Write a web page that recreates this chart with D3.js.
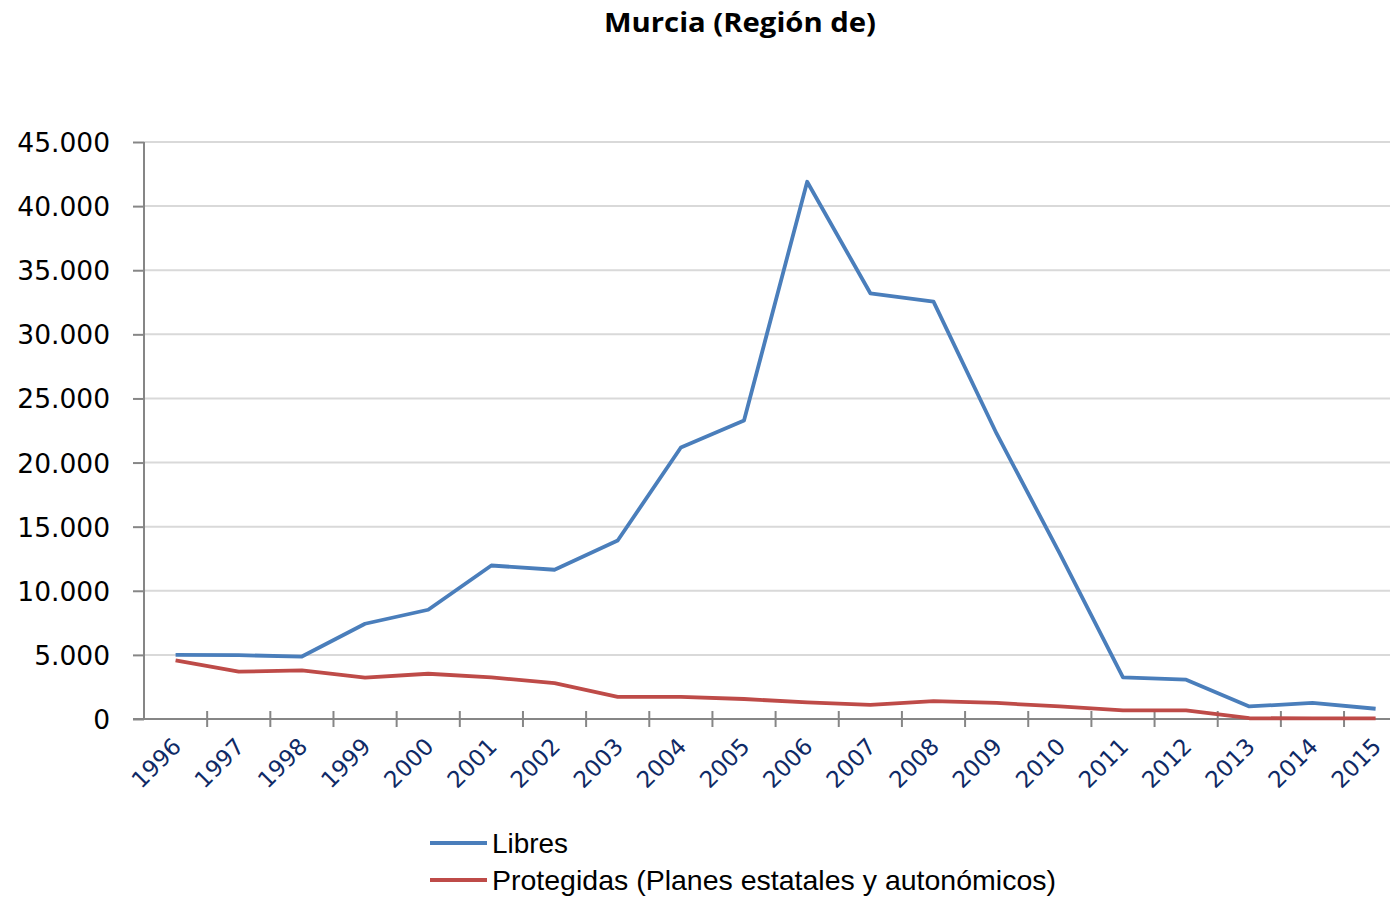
<!DOCTYPE html>
<html>
<head>
<meta charset="utf-8">
<script src="https://cdn.jsdelivr.net/npm/d3@7/dist/d3.min.js"></script>
<style>
  html, body { margin: 0; padding: 0; background: #fff; }
  svg { display: block; }
</style>
</head>
<body>
<svg id="chart" width="1390" height="897"></svg>
<script>
const title = "Murcia (Región de)";
const years = ["1996","1997","1998","1999","2000","2001","2002","2003","2004","2005",
               "2006","2007","2008","2009","2010","2011","2012","2013","2014","2015"];
const libres = [5000, 4980, 4870, 7430, 8520, 11970, 11640, 13920, 21170, 23280,
                41900, 33200, 32550, 22250, 12900, 3240, 3070, 980, 1250, 800];
const protegidas = [4570, 3690, 3800, 3230, 3530, 3240, 2800, 1720, 1720, 1560,
                    1290, 1100, 1400, 1250, 980, 670, 670, 60, 50, 50];
const yTicks = [0, 5000, 10000, 15000, 20000, 25000, 30000, 35000, 40000, 45000];
const seriesNames = ["Libres", "Protegidas (Planes estatales y autonómicos)"];
const seriesColors = ["#4a7ebb", "#be4b48"];

(function () {
const svg = d3.select("#chart");
const W = 1390, H = 897;
const mLeft = 144, mTop = 142, mBottom = 719;
const band = 63.16;

const x = d3.scaleBand().domain(years).range([mLeft, mLeft + band * years.length]).padding(0);
const y = d3.scaleLinear().domain([0, 45000]).range([mBottom, mTop]);

const fmt = v => v === 0 ? "0" : d3.format(",")(v).replace(/,/g, ".");

// gridlines
svg.append("g").selectAll("line").data(yTicks.filter(d => d > 0)).join("line")
  .attr("x1", mLeft).attr("x2", W)
  .attr("y1", d => y(d)).attr("y2", d => y(d))
  .attr("stroke", "#d9d9d9").attr("stroke-width", 2);

// y axis
const yAxis = d3.axisLeft(y).tickValues(yTicks).tickSize(11).tickPadding(0).tickFormat(fmt);
const gy = svg.append("g").attr("transform", `translate(${mLeft},0)`).call(yAxis);
gy.select(".domain").remove();
gy.selectAll(".tick line").attr("stroke", "#868686").attr("stroke-width", 2);
gy.selectAll(".tick text").attr("x", -34).attr("dy", "0.36em")
  .attr("font-family", "DejaVu Sans").attr("font-size", 26.5).attr("fill", "#000");
svg.append("line").attr("x1", mLeft).attr("x2", mLeft).attr("y1", mTop).attr("y2", mBottom)
  .attr("stroke", "#868686").attr("stroke-width", 2);

// x axis line
svg.append("line").attr("x1", mLeft - 11).attr("x2", W).attr("y1", mBottom).attr("y2", mBottom)
  .attr("stroke", "#868686").attr("stroke-width", 2);
// x ticks at band boundaries
const bounds = years.map(d => x(d)).concat([x(years[years.length - 1]) + x.bandwidth()]);
svg.append("g").selectAll("line").data(bounds.slice(1)).join("line")
  .attr("x1", d => d).attr("x2", d => d)
  .attr("y1", mBottom - 8).attr("y2", mBottom + 8)
  .attr("stroke", "#868686").attr("stroke-width", 2);

// x labels
svg.append("g").selectAll("text").data(years).join("text")
  .attr("transform", d => `translate(${x(d) + x.bandwidth() / 2 + 7},${mBottom + 29}) rotate(-45)`)
  .attr("text-anchor", "end")
  .attr("font-family", "DejaVu Sans").attr("font-size", 23).attr("fill", "#0f2a66")
  .text(d => d);

// lines
const line = d3.line().x((d, i) => x(years[i]) + x.bandwidth() / 2).y(d => y(d));
[libres, protegidas].forEach((s, i) => {
  svg.append("path").datum(s).attr("d", line)
    .attr("fill", "none").attr("stroke", seriesColors[i]).attr("stroke-width", 3.8)
    .attr("stroke-linejoin", "round");
});

// title
svg.append("text").attr("x", 740).attr("y", 32).attr("text-anchor", "middle")
  .attr("font-family", "Open Sans").attr("font-weight", "bold").attr("font-size", 26)
  .attr("textLength", 272).attr("lengthAdjust", "spacingAndGlyphs")
  .text(title);

// legend
const legendWidths = [76, 564];
seriesNames.forEach((name, i) => {
  const ly = 843 + i * 37;
  svg.append("line").attr("x1", 430).attr("x2", 487).attr("y1", ly).attr("y2", ly)
    .attr("stroke", seriesColors[i]).attr("stroke-width", 3.8);
  svg.append("text").attr("x", 492).attr("y", ly + 10)
    .attr("font-family", "Liberation Sans Narrow, Liberation Sans").attr("font-size", 28).attr("fill", "#000")
    .attr("textLength", legendWidths[i]).attr("lengthAdjust", "spacingAndGlyphs")
    .text(name);
});
})();
</script>
</body>
</html>
